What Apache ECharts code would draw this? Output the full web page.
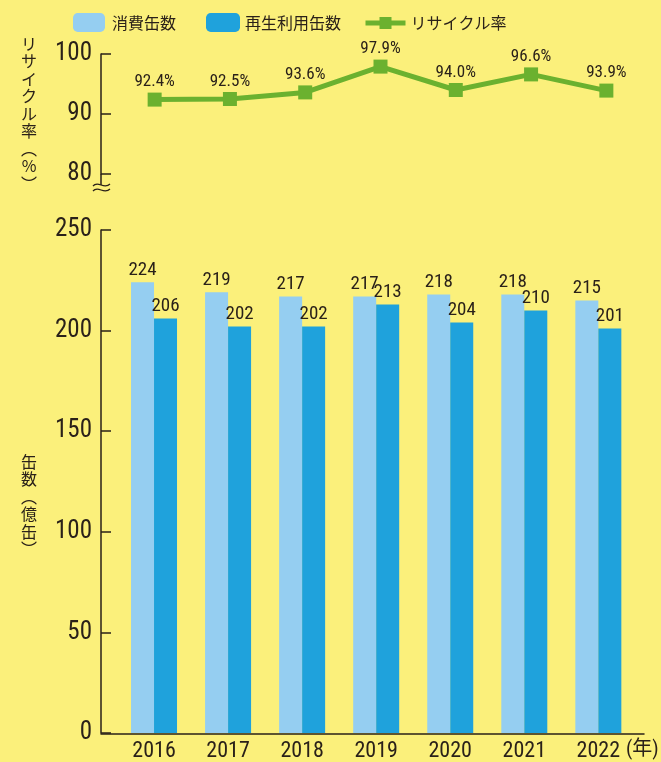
<!DOCTYPE html>
<html>
<head>
<meta charset="utf-8">
<script src="https://cdn.jsdelivr.net/npm/echarts@6/dist/echarts.min.js"></script>
<style>
html,body{margin:0;padding:0;background:#FBF07B;}
#c{width:661px;height:762px;}
</style>
</head>
<body>
<div id="c"></div>
<script>
const years = ['2016', '2017', '2018', '2019', '2020', '2021', '2022'];
const consumedCans = [224, 219, 217, 217, 218, 218, 215];
const recycledCans = [206, 202, 202, 213, 204, 210, 201];
const recycleRate = [92.4, 92.5, 93.6, 97.9, 94.0, 96.6, 93.9];

const NUM_FONT = "'Roboto Condensed','Liberation Sans Narrow','Liberation Sans','Noto Sans CJK JP',sans-serif";
const CJK_FONT = "'Noto Sans CJK JP','Noto Sans',sans-serif";
const INK = '#2a2119';
const LIGHT = '#95CEF1';
const DARK = '#1FA2DC';
const GREEN = '#6BB12F';

const chart = echarts.init(document.getElementById('c'));
const axisLine = {show: true, lineStyle: {color: INK, width: 1.5}};
const tick = {show: true, inside: true, length: 10, lineStyle: {color: INK, width: 1.5}};
const yLabel = {color: INK, fontSize: 25, fontFamily: NUM_FONT, margin: 9};

chart.setOption({
  backgroundColor: '#FBF07B',
  animation: false,
  legend: [
    {left: 73, top: 13, padding: 0, itemWidth: 32, itemHeight: 19, data: ['消費缶数'],
     textStyle: {color: INK, fontSize: 16, fontFamily: CJK_FONT, padding: [0, 0, 0, 2]}},
    {left: 206, top: 13, padding: 0, itemWidth: 34, itemHeight: 19, data: ['再生利用缶数'],
     textStyle: {color: INK, fontSize: 16, fontFamily: CJK_FONT}},
    {left: 363, top: 15, padding: 0, itemWidth: 40, itemHeight: 15, data: ['リサイクル率'],
     lineStyle: {width: 5}, itemGap: 4,
     textStyle: {color: INK, fontSize: 16, fontFamily: CJK_FONT}}
  ],
  grid: [
    {left: 117, right: 17, top: 54, height: 120},
    {left: 117, right: 17, top: 230, height: 503},
    {left: 101, right: 17, top: 733, height: 1}
  ],
  xAxis: [
    {gridIndex: 0, type: 'category', data: years, show: false},
    {gridIndex: 1, type: 'category', data: years,
     axisLine: {show: false}, axisTick: {show: false},
     axisLabel: {color: INK, fontSize: 22, fontFamily: NUM_FONT, margin: 7},
     name: '(年)', nameLocation: 'end', nameGap: -15,
     nameTextStyle: {color: INK, fontSize: 20, fontFamily: NUM_FONT, verticalAlign: 'top', padding: [7, 0, 0, 0]}},
    {gridIndex: 2, type: 'value', min: 0, max: 1, position: 'top', axisLine: axisLine,
     axisTick: {show: false}, axisLabel: {show: false}, splitLine: {show: false}}
  ],
  yAxis: [
    {gridIndex: 0, type: 'value', min: 80, max: 100, interval: 10, offset: 16,
     axisLine: axisLine, axisTick: tick, axisLabel: yLabel, splitLine: {show: false}},
    {gridIndex: 1, type: 'value', min: 0, max: 250, interval: 50, offset: 16,
     axisLine: axisLine, axisTick: tick, axisLabel: yLabel, splitLine: {show: false}},
    {gridIndex: 2, type: 'value', min: 0, max: 1, show: false}
  ],
  series: [
    {name: '消費缶数', type: 'bar', xAxisIndex: 1, yAxisIndex: 1, data: consumedCans,
     barWidth: 23, barGap: '0%', itemStyle: {color: LIGHT},
     label: {show: true, position: 'top', distance: 3, color: INK, fontSize: 19, fontFamily: NUM_FONT}},
    {name: '再生利用缶数', type: 'bar', xAxisIndex: 1, yAxisIndex: 1, data: recycledCans,
     barWidth: 23, barGap: '0%', itemStyle: {color: DARK},
     label: {show: true, position: 'top', distance: 3, color: INK, fontSize: 19, fontFamily: NUM_FONT}},
    {name: 'リサイクル率', type: 'line', xAxisIndex: 0, yAxisIndex: 0, data: recycleRate,
     symbol: 'rect', symbolSize: 14, lineStyle: {color: GREEN, width: 5}, itemStyle: {color: GREEN},
     label: {show: true, position: 'top', distance: 2, color: INK, fontSize: 17, fontFamily: NUM_FONT,
             formatter: p => p.value.toFixed(1) + '%'}}
  ],
  graphic: [
    {type: 'text', x: 29, y: 35,
     style: {text: 'リ\nサ\nイ\nク\nル\n率\n︵\n%\n︶', font: "16px 'Noto Sans CJK JP'", fill: INK, lineHeight: 17.5, align: 'center', verticalAlign: 'top'}},
    {type: 'text', x: 29, y: 453,
     style: {text: '缶\n数\n︵\n億\n缶\n︶', font: "16px 'Noto Sans CJK JP'", fill: INK, lineHeight: 17.5, align: 'center', verticalAlign: 'top'}},
    {type: 'line', shape: {x1: 101, y1: 174, x2: 101, y2: 185}, style: {stroke: INK, lineWidth: 1.5}},
    {type: 'bezierCurve', shape: {x1: 93, y1: 186, cpx1: 98, cpy1: 180, cpx2: 104, cpy2: 190, x2: 110, y2: 184},
     style: {stroke: INK, lineWidth: 1.2, fill: null}},
    {type: 'bezierCurve', shape: {x1: 93, y1: 191, cpx1: 98, cpy1: 185, cpx2: 104, cpy2: 195, x2: 110, y2: 189},
     style: {stroke: INK, lineWidth: 1.2, fill: null}}
  ]
});
</script>
</body>
</html>
